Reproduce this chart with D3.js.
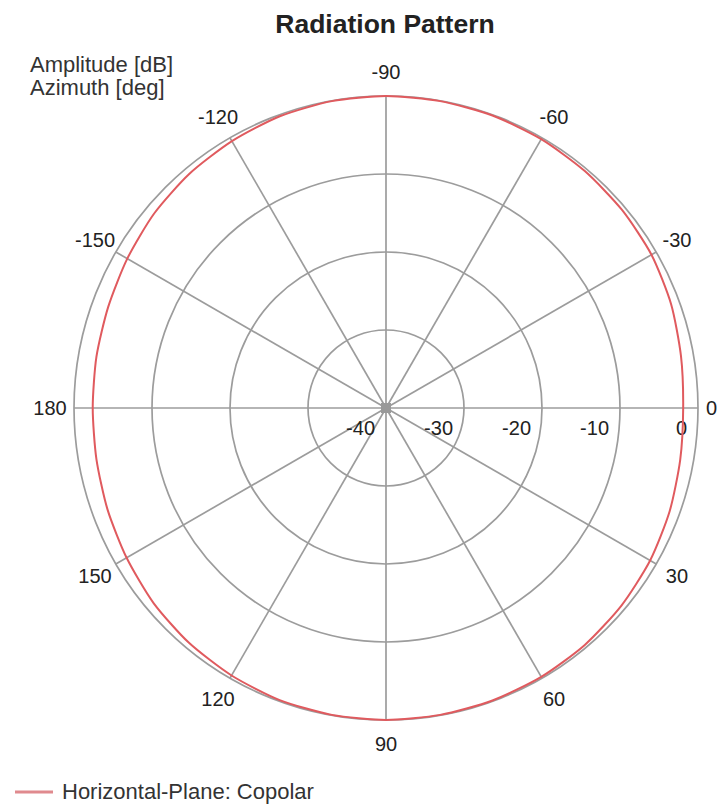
<!DOCTYPE html>
<html>
<head>
<meta charset="utf-8">
<script src="https://cdn.jsdelivr.net/npm/d3@7"></script>
<style>
  html, body { margin: 0; padding: 0; background: #fff; }
  svg { display: block; font-family: "Liberation Sans", Arial, sans-serif; }
</style>
</head>
<body>
<svg id="chart" width="717" height="805"></svg>
<script>
// ---- data ----
const azimuthDeg = [-180,-170,-160,-150,-140,-130,-120,-110,-100,-90,-80,-70,-60,-50,-40,-30,-20,-10,
                    0,10,20,30,40,50,60,70,80,90,100,110,120,130,140,150,160,170,180];
const amplitudeDb = [-2.4,-2.3,-2.1,-1.7,-1.2,-0.8,-0.5,-0.2,-0.05,0,-0.05,-0.1,-0.2,-0.35,-0.5,-0.7,-1.1,-1.6,
                     -1.9,-1.7,-1.3,-0.9,-0.6,-0.35,-0.2,-0.1,-0.05,0,-0.05,-0.15,-0.4,-0.7,-1.1,-1.6,-2.0,-2.3,-2.4];
const radialTicks = [-40, -30, -20, -10, 0];
const angleTicks = [0, 30, 60, 90, 120, 150, 180, -150, -120, -90, -60, -30];
const angleTickLabels = ["0", "30", "60", "90", "120", "150", "180", "-150", "-120", "-90", "-60", "-30"];
const seriesName = "Horizontal-Plane: Copolar";
const titleText = "Radiation Pattern";
const axisTitles = ["Amplitude [dB]", "Azimuth [deg]"];

// ---- layout ----
const svg = d3.select("#chart");
const cx = 386, cy = 408, R = 312;
const rScale = d3.scaleLinear().domain([-40, 0]).range([0, R]);
const aScale = d3.scaleLinear().domain([0, 360]).range([0, 2 * Math.PI]);
const grid = "#9c9c9c";
const lineColor = "#e05a5e";

const g = svg.append("g").attr("transform", `translate(${cx},${cy})`);

// rings
g.selectAll("circle.ring").data(radialTicks.slice(1)).join("circle")
  .attr("class", "ring")
  .attr("r", d => rScale(d))
  .attr("fill", "none").attr("stroke", grid).attr("stroke-width", 1.7);

// spokes
g.selectAll("line.spoke").data(angleTicks).join("line")
  .attr("x1", 0).attr("y1", 0)
  .attr("x2", d => R * Math.cos(aScale(d)))
  .attr("y2", d => R * Math.sin(aScale(d)))
  .attr("stroke", grid).attr("stroke-width", 1.7);

g.append("rect").attr("x", -5).attr("y", -5).attr("width", 10).attr("height", 10).attr("fill", "#999");

// radial labels
g.selectAll("text.rlab").data(radialTicks).join("text")
  .attr("x", d => rScale(d) - 11)
  .attr("y", 27)
  .attr("text-anchor", "end")
  .attr("font-size", 20)
  .attr("fill", "#222")
  .text(d => d);

// angle labels
g.selectAll("text.alab").data(angleTicks).join("text")
  .attr("x", d => d === 0 ? R + 8 : 336 * Math.cos(aScale(d)))
  .attr("y", d => 336 * Math.sin(aScale(d)))
  .attr("text-anchor", d => d === 0 ? "start" : "middle")
  .attr("dominant-baseline", "central")
  .attr("font-size", 20)
  .attr("fill", "#222")
  .text((d, i) => angleTickLabels[i]);

// pattern line
const line = d3.lineRadial()
  .angle(d => aScale(d[0] + 90))
  .radius(d => rScale(d[1]))
  .curve(d3.curveCardinalClosed.tension(0.3));
const pts = azimuthDeg.slice(0, -1).map((a, i) => [a, amplitudeDb[i]]);
g.append("path")
  .attr("d", line(pts))
  .attr("fill", "none")
  .attr("stroke", lineColor)
  .attr("stroke-width", 2);

// title
svg.append("text")
  .attr("x", 385).attr("y", 33)
  .attr("text-anchor", "middle")
  .attr("font-size", 26.5).attr("font-weight", "bold")
  .attr("fill", "#222")
  .text(titleText);

// axis titles
svg.selectAll("text.atitle").data(axisTitles).join("text")
  .attr("x", 30).attr("y", (d, i) => 72 + i * 23)
  .attr("font-size", 22)
  .attr("fill", "#333")
  .text(d => d);

// legend
svg.append("line")
  .attr("x1", 15).attr("x2", 53).attr("y1", 792).attr("y2", 792)
  .attr("stroke", "#e08a8e").attr("stroke-width", 3);
svg.append("text")
  .attr("x", 62).attr("y", 799)
  .attr("font-size", 22)
  .attr("fill", "#333")
  .text(seriesName);
</script>
</body>
</html>
